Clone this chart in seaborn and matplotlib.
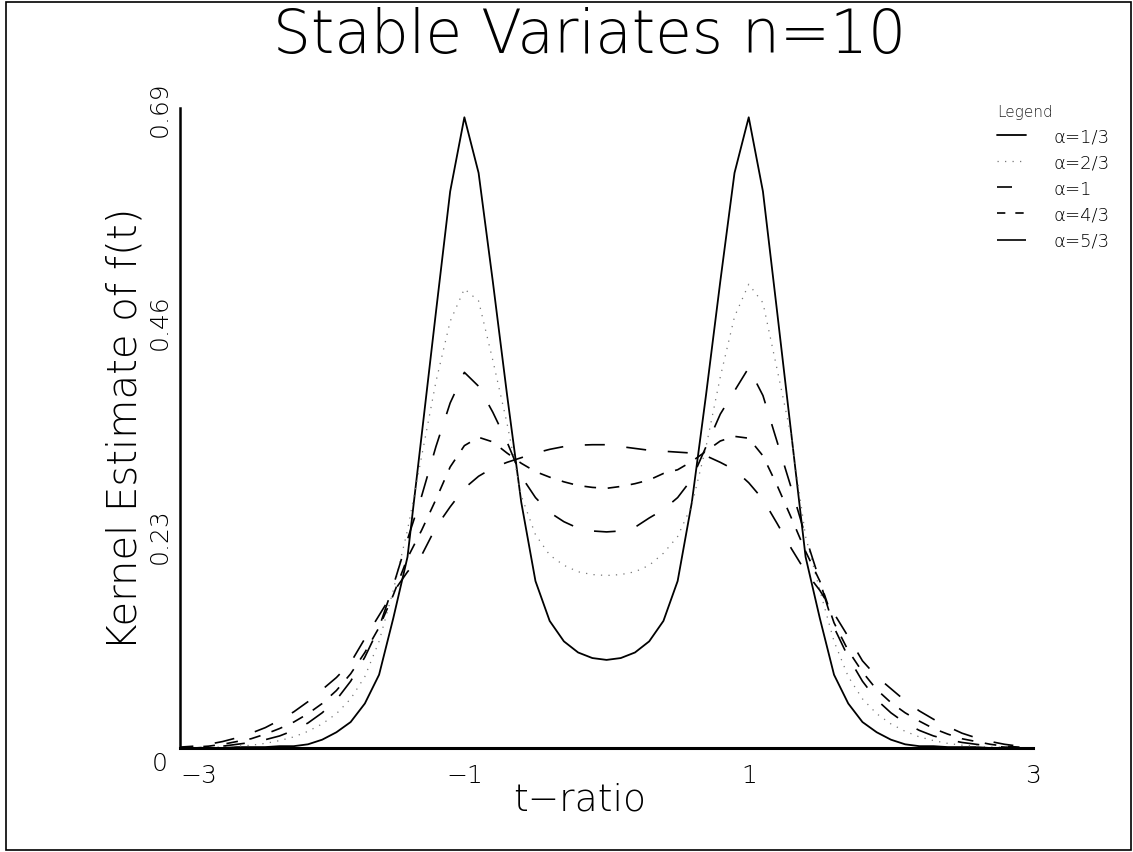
import numpy as np
import pandas as pd
import matplotlib
matplotlib.use("Agg")
import matplotlib.pyplot as plt
import seaborn as sns
from matplotlib.lines import Line2D
from matplotlib.patches import Rectangle

# grid of t values, -3 .. 3 step 0.1
t_vals = [round(-3 + 0.1 * i, 1) for i in range(61)]

# values, left half then right half
a13 = [0.000, 0.000, 0.000, 0.000, 0.001, 0.001, 0.001, 0.002, 0.002, 0.004,
       0.009, 0.017, 0.028, 0.048, 0.079, 0.140, 0.206, 0.338, 0.470, 0.600,
       0.680, 0.620, 0.503, 0.381, 0.265, 0.180, 0.137, 0.115, 0.103, 0.097,
       0.095,
       0.097, 0.103, 0.115, 0.137, 0.180, 0.265, 0.381, 0.503, 0.620, 0.680,
       0.600, 0.470, 0.338, 0.206, 0.140, 0.079, 0.048, 0.028, 0.017, 0.009,
       0.004, 0.002, 0.002, 0.001, 0.001, 0.001, 0.000, 0.000, 0.000, 0.000]
a23 = [0.000, 0.000, 0.001, 0.001, 0.002, 0.003, 0.005, 0.008, 0.012, 0.018,
       0.026, 0.037, 0.053, 0.077, 0.115, 0.170, 0.235, 0.315, 0.395, 0.460,
       0.495, 0.482, 0.418, 0.350, 0.272, 0.230, 0.208, 0.197, 0.190, 0.187,
       0.186,
       0.187, 0.190, 0.197, 0.210, 0.228, 0.262, 0.325, 0.400, 0.465, 0.500,
       0.480, 0.408, 0.335, 0.228, 0.170, 0.115, 0.077, 0.053, 0.037, 0.026,
       0.018, 0.012, 0.008, 0.005, 0.003, 0.002, 0.001, 0.001, 0.000, 0.000]
a1 = [0.000, 0.000, 0.001, 0.002, 0.004, 0.006, 0.009, 0.013, 0.019, 0.027,
      0.038, 0.052, 0.072, 0.098, 0.130, 0.175, 0.225, 0.272, 0.325, 0.372,
      0.405, 0.390, 0.362, 0.330, 0.293, 0.270, 0.254, 0.244, 0.237, 0.234,
      0.233,
      0.234, 0.238, 0.248, 0.257, 0.270, 0.290, 0.325, 0.360, 0.385, 0.410,
      0.380, 0.330, 0.280, 0.228, 0.180, 0.130, 0.098, 0.072, 0.052, 0.038,
      0.027, 0.019, 0.013, 0.009, 0.006, 0.004, 0.002, 0.001, 0.000, 0.000]
a43 = [0.000, 0.001, 0.002, 0.004, 0.007, 0.010, 0.015, 0.021, 0.028, 0.037,
       0.048, 0.062, 0.080, 0.103, 0.130, 0.165, 0.205, 0.235, 0.268, 0.303,
       0.326, 0.335, 0.330, 0.318, 0.307, 0.298, 0.292, 0.287, 0.283, 0.281,
       0.280,
       0.282, 0.285, 0.289, 0.296, 0.300, 0.309, 0.320, 0.331, 0.336, 0.334,
       0.315, 0.283, 0.248, 0.212, 0.180, 0.135, 0.105, 0.082, 0.063, 0.049,
       0.038, 0.029, 0.021, 0.015, 0.010, 0.007, 0.004, 0.002, 0.001, 0.000]
a53 = [0.001, 0.002, 0.004, 0.007, 0.011, 0.016, 0.022, 0.030, 0.039, 0.050,
       0.063, 0.076, 0.092, 0.118, 0.143, 0.168, 0.190, 0.208, 0.238, 0.260,
       0.280, 0.293, 0.302, 0.308, 0.313, 0.318, 0.322, 0.325, 0.3265, 0.327,
       0.327,
       0.325, 0.323, 0.321, 0.320, 0.319, 0.318, 0.315, 0.308, 0.300, 0.286,
       0.268, 0.242, 0.215, 0.190, 0.170, 0.145, 0.120, 0.094, 0.077, 0.064,
       0.051, 0.040, 0.031, 0.023, 0.016, 0.011, 0.007, 0.004, 0.002, 0.001]

labels = ["α=1/3", "α=2/3", "α=1", "α=4/3", "α=5/3"]
series = [a13, a23, a1, a43, a53]
styles = ["-", (0, (1, 5)), (0, (13, 13)), (0, (7, 7)), (4, (12, 13))]
leg_styles = ["-", (0, (1, 5)), (0, (9, 30)), (0, (5, 6)), (0, (30, 5))]
colors = ["black", "#777777", "black", "black", "black"]
widths = [1.3, 0.9, 1.2, 1.2, 1.2]

xticks = [-3, -1, 1, 3]
yticks = [0.23, 0.46, 0.69]

sns.set_style("white")
plt.rcParams["font.family"] = ["DejaVu Sans"]
plt.rcParams["font.weight"] = "light"
thin = dict(fontweight="light", color="black")

fig = plt.figure(figsize=(11.33, 8.53), dpi=100)
ax = fig.add_axes([0.1589, 0.1219, 0.7529, 0.7503])

df = pd.DataFrame({"t": t_vals})
for lab, vals in zip(labels, series):
    df[lab] = vals

handles = []
for lab, ls, lls, c, w in zip(labels, styles, leg_styles, colors, widths):
    sns.lineplot(data=df, x="t", y=lab, ax=ax, color=c, linewidth=w, linestyle=ls)
    handles.append(Line2D([], [], color=c, linewidth=w, linestyle=lls))

ax.set_xlim(-3, 3)
ax.set_ylim(0, 0.69)
ax.set_xticks(xticks)
ax.set_xticklabels(["\u22123", "\u22121", "1", "3"], **thin)
ax.set_yticks(yticks)
ax.set_yticklabels(["0.23", "0.46", "0.69"], rotation=90, va="center", **thin)
ax.tick_params(direction="in", length=7, width=1.2, labelsize=18, pad=6, colors="black")
ax.tick_params(axis="x", pad=11)
ax.get_xticklabels()[0].set_ha("left")
for s in ["top", "right"]:
    ax.spines[s].set_visible(False)
ax.spines["left"].set_linewidth(1.8)
ax.spines["bottom"].set_linewidth(2.2)
ax.spines["left"].set_color("black")
ax.spines["bottom"].set_color("black")

ax.text(-0.024, -0.023, "0", transform=ax.transAxes, fontsize=18, ha="center", va="center", **thin)

ax.set_xlabel("t\u2212ratio", fontsize=27, **thin)
ax.xaxis.set_label_coords(0.469, -0.08)
ax.xaxis.label.set_va("center")
ax.set_ylabel("Kernel Estimate of f(t)", fontsize=29, **thin)
ax.yaxis.set_label_coords(-0.064, 0.5)
ax.yaxis.label.set_va("center")
fig.text(0.52, 0.957, "Stable Variates n=10", fontsize=43, ha="center", va="center", **thin)

leg = ax.legend(handles, labels, title="Legend", frameon=False, loc="upper left",
                bbox_to_anchor=(0.874, 0.885), bbox_transform=fig.transFigure,
                prop=dict(size=13, weight="light"), title_fontsize=11, handlelength=1.6,
                labelspacing=0.45, handletextpad=1.5, alignment="left", borderaxespad=0)
for txt in leg.get_texts():
    txt.set_color("black")

fig.patches.append(Rectangle((0.005, 0.002), 0.993, 0.994, transform=fig.transFigure,
                             fill=False, edgecolor="black", linewidth=1.2))

fig.savefig("out.png", dpi=100)
